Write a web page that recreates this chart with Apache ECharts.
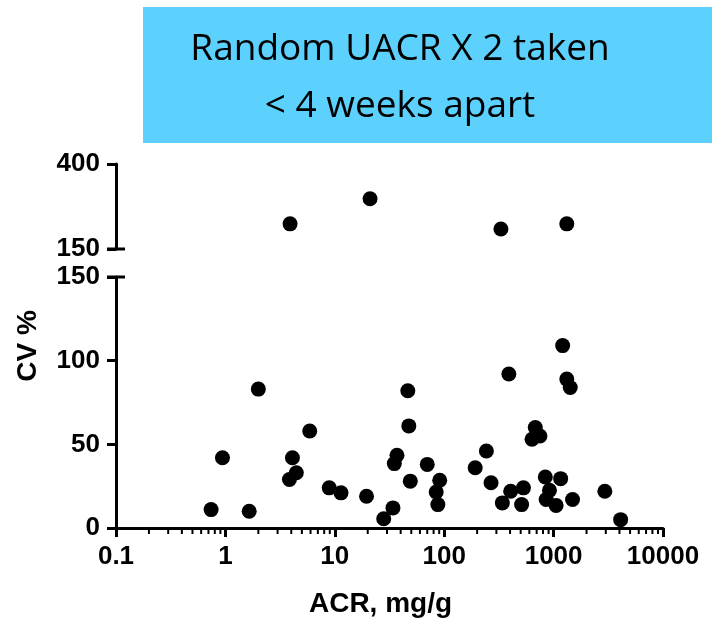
<!DOCTYPE html>
<html>
<head>
<meta charset="utf-8">
<script src="https://cdn.jsdelivr.net/npm/echarts@6/dist/echarts.min.js"></script>
<style>
  html, body { margin: 0; padding: 0; background: #fff; }
  #main { width: 712px; height: 624px; }
</style>
</head>
<body>
<div id="main"></div>
<script>
// ACR (mg/g) and CV (%) per patient
var acr = [0.74, 0.94, 1.65, 2.0, 3.85, 4.1, 4.45, 5.9, 8.9, 11.4,
  19.5, 28, 34, 35, 37, 46.5, 47.5, 49, 70, 84.5, 87.5, 91,
  192, 243, 268, 340, 390, 405, 510, 530, 635, 680, 750, 840, 855, 917,
  1054, 1160, 1210, 1320, 1420, 1490, 2940, 4100,
  3.9, 21, 330, 1320]
var cv = [11, 42, 10, 83, 29, 42, 33, 58, 24, 21,
  19, 5.5, 12, 38.5, 43.5, 82, 61, 28, 38, 21.5, 14, 28.5,
  36, 46, 27, 15, 92, 22, 14, 24, 53, 60, 55, 30.5, 17, 22.5,
  13.5, 29.5, 109, 89, 84, 17, 22, 5,
  224, 298, 209, 224]

var breakAt = 150
var lowerRange = [0, 150]
var upperRange = [150, 400]
var xRange = [0.1, 10000]
var decades = [0.1, 1, 10, 100, 1000]
var minorMultipliers = [2, 3, 4, 5, 6, 7, 8, 9]

var lowerPts = [], upperPts = []
acr.forEach(function (a, i) {
  if (cv[i] > breakAt) upperPts.push([a, cv[i]])
  else lowerPts.push([a, cv[i]])
})

var labelFont = { color: '#000', fontFamily: 'Liberation Sans, Arial, sans-serif', fontWeight: 'bold', fontSize: 26 }
var blackLine = { color: '#000', width: 3 }

var chart = echarts.init(document.getElementById('main'))
chart.setOption({
  animation: false,
  grid: [
    { left: 116, right: 49, top: 277, bottom: 96 },
    { left: 116, right: 49, top: 164, height: 85 },
    { left: 116, right: 49, top: 164, bottom: 96 }
  ],
  xAxis: [
    {
      type: 'log', gridIndex: 0, position: 'bottom', min: xRange[0], max: xRange[1],
      axisLine: { show: true, onZero: false, lineStyle: blackLine },
      axisTick: { show: true, length: 9, lineStyle: blackLine },
      axisLabel: Object.assign({ margin: 16, formatter: function (v) { return String(v) } }, labelFont),
      splitLine: { show: false },
      name: 'ACR, mg/g', nameLocation: 'middle', nameGap: 62,
      nameTextStyle: Object.assign({}, labelFont, { fontSize: 28, padding: [0, 18, 0, 0] })
    },
    { type: 'log', gridIndex: 1, min: xRange[0], max: xRange[1], show: false },
    { type: 'value', gridIndex: 2, show: false }
  ],
  yAxis: [
    {
      type: 'value', gridIndex: 0, position: 'left', min: lowerRange[0], max: lowerRange[1], interval: 50,
      axisLine: { show: true, onZero: false, lineStyle: blackLine },
      axisTick: { show: true, length: 9, lineStyle: blackLine },
      axisLabel: Object.assign({ margin: 16 }, labelFont),
      splitLine: { show: false }
    },
    {
      type: 'value', gridIndex: 1, position: 'left', min: upperRange[0], max: upperRange[1], interval: 250,
      axisLine: { show: true, onZero: false, lineStyle: blackLine },
      axisTick: { show: true, length: 9, lineStyle: blackLine },
      axisLabel: Object.assign({ margin: 16 }, labelFont),
      splitLine: { show: false }
    },
    {
      type: 'value', gridIndex: 2, position: 'left',
      axisLine: { show: false, onZero: false }, axisTick: { show: false }, axisLabel: { show: false }, splitLine: { show: false },
      name: 'CV %', nameLocation: 'middle', nameGap: 74,
      nameTextStyle: Object.assign({}, labelFont, { fontSize: 28 })
    }
  ],
  series: [
    {
      type: 'scatter', xAxisIndex: 0, yAxisIndex: 0, data: lowerPts,
      symbolSize: 15, itemStyle: { color: '#000', opacity: 1 }, clip: false
    },
    {
      type: 'scatter', xAxisIndex: 1, yAxisIndex: 1, data: upperPts,
      symbolSize: 15, itemStyle: { color: '#000', opacity: 1 }, clip: false
    }
  ]
})

// decorations: title box, log minor ticks and the break caps, placed through the axes
var deco = [
  { type: 'rect', shape: { x: 143, y: 7, width: 569, height: 136 }, style: { fill: '#5cd1fd' } },
  {
    type: 'text', x: 400, y: 78,
    style: {
      text: 'Random UACR X 2 taken\n< 4 weeks apart',
      fontFamily: '"Open Sans", sans-serif',
      fontSize: 37, lineHeight: 57, fill: '#000',
      align: 'center', verticalAlign: 'middle'
    }
  }
]
decades.forEach(function (d) {
  minorMultipliers.forEach(function (m) {
    var p = chart.convertToPixel({ xAxisIndex: 0, yAxisIndex: 0 }, [m * d, 0])
    deco.push({ type: 'line', shape: { x1: p[0], y1: p[1], x2: p[0], y2: p[1] + 6 }, style: { stroke: '#000', lineWidth: 2 } })
  })
})
var capLow = chart.convertToPixel({ xAxisIndex: 0, yAxisIndex: 0 }, [xRange[0], breakAt])
var capUp = chart.convertToPixel({ xAxisIndex: 1, yAxisIndex: 1 }, [xRange[0], breakAt])
;[capLow, capUp].forEach(function (p) {
  deco.push({ type: 'line', shape: { x1: p[0] - 9, y1: p[1], x2: p[0] + 9, y2: p[1] }, style: { stroke: '#000', lineWidth: 3 } })
})
chart.setOption({ graphic: deco })
</script>
</body>
</html>
